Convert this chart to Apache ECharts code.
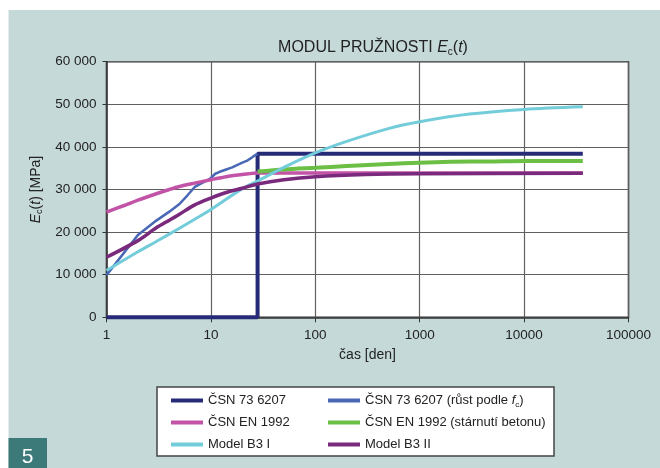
<!DOCTYPE html>
<html>
<head>
<meta charset="utf-8">
<script src="https://cdn.jsdelivr.net/npm/echarts@6/dist/echarts.min.js"></script>
<style>
  html, body { margin: 0; padding: 0; background: #ffffff; }
  #chart { width: 660px; height: 468px; }
</style>
</head>
<body>
<div id="chart"></div>
<script>
// time [days] and modulus [MPa]
var tCsn = [1, 28, 28, 36500];
var eCsn = [0, 0, 38400, 38400];

var tCsnFc = [1, 2, 3, 4, 5, 6, 7, 8, 9, 10, 11, 12, 14, 16, 18, 20, 22, 24, 26, 28];
var eCsnFc = [9900, 19300, 22700, 24800, 26600, 28700, 30600, 31400, 32000, 32700, 33700, 34100, 34700, 35200, 35800, 36300, 36700, 37300, 37900, 38400];

var tEn = [1, 1.5, 2, 3, 4, 5, 7, 10, 14, 20, 28, 100, 1000, 36500];
var eEn = [24700, 26300, 27500, 29000, 30000, 30700, 31500, 32300, 33000, 33500, 33900, 33900, 33900, 33900];

var tEnAge = [28, 50, 100, 200, 500, 1000, 2000, 5000, 10000, 36500];
var eEnAge = [34200, 34700, 35100, 35500, 36000, 36300, 36500, 36600, 36700, 36700];

var tB3I = [1, 2, 3, 5, 7, 10, 20, 28, 50, 100, 200, 500, 1000, 3000, 10000, 36500];
var eB3I = [11000, 15400, 17800, 20900, 23000, 25300, 30200, 32000, 35200, 38600, 41300, 44300, 45900, 47700, 48800, 49400];

var tB3II = [1, 2, 3, 4, 5, 7, 10, 14, 20, 28, 50, 100, 300, 1000, 36500];
var eB3II = [14100, 18000, 21000, 22800, 24200, 26400, 28000, 29300, 30300, 31300, 32300, 33000, 33500, 33700, 33800];

var names = ['ČSN 73 6207', 'ČSN 73 6207 (růst podle fc)', 'ČSN EN 1992',
             'ČSN EN 1992 (stárnutí betonu)', 'Model B3 I', 'Model B3 II'];
var colors = ['#272a76', '#4868b6', '#c253a7', '#6bbf45', '#72ccd9', '#7a2a7c'];
var widths = [4, 2.5, 3.5, 4, 3, 3.5];
var xTicks = [1, 10, 100, 1000, 10000, 100000];

function zip(t, e) {
    return t.map(function (v, i) { return [v, e[i]]; });
}
var seriesData = [zip(tCsn, eCsn), zip(tCsnFc, eCsnFc), zip(tEn, eEn),
                  zip(tEnAge, eEnAge), zip(tB3I, eB3I), zip(tB3II, eB3II)];

var chart = echarts.init(document.getElementById('chart'));

// legend: two columns, three rows
var legendPos = [[166, 389], [323, 389], [166, 411], [323, 411], [166, 433], [323, 433]];
var legends = names.map(function (n, i) {
    return {
        data: [n],
        left: legendPos[i][0],
        top: legendPos[i][1],
        icon: 'rect',
        itemWidth: 32,
        itemHeight: 4,
        itemGap: 0,
        z: 10,
        selectedMode: false,
        formatter: function (name) {
            if (name === names[1]) return 'ČSN 73 6207 (růst podle {i|f}{s|c})';
            return name;
        },
        textStyle: {
            fontFamily: 'Liberation Sans, Arial, sans-serif',
            fontSize: 13,
            color: '#222',
            rich: {
                i: { fontStyle: 'italic', fontSize: 13, fontFamily: 'Liberation Sans', color: '#222' },
                s: { fontSize: 8, fontFamily: 'Liberation Sans', color: '#222', padding: [8, 0, 0, 0] }
            }
        }
    };
});

var option = {
    animation: false,
    backgroundColor: '#ffffff',
    textStyle: { fontFamily: 'Liberation Sans, Arial, sans-serif' },
    title: {
        text: 'MODUL PRUŽNOSTI {i|E}{s|c}({i|t})',
        left: 368,
        top: 33,
        textAlign: 'center',
        textStyle: {
            fontSize: 16,
            fontWeight: 'normal',
            color: '#222',
            rich: {
                i: { fontSize: 16, fontStyle: 'italic', color: '#222' },
                s: { fontSize: 10, color: '#222', padding: [9, 0, 0, 0] }
            }
        }
    },
    legend: legends,
    graphic: [
        { type: 'rect', z: -100, shape: { x: 8.5, y: 10, width: 652, height: 458 }, style: { fill: '#c5d9d8' } },
        { type: 'rect', z: 5, shape: { x: 157, y: 387, width: 397, height: 69 }, style: { fill: '#ffffff', stroke: '#444', lineWidth: 1.5 } },
        { type: 'rect', z: 5, shape: { x: 8.5, y: 438, width: 38.5, height: 30 }, style: { fill: '#3b7a79' } },
        { type: 'text', z: 6, x: 27.5, y: 457, style: { text: '5', fill: '#ffffff', fontSize: 21, fontFamily: 'Liberation Sans', align: 'center', verticalAlign: 'middle' } }
    ],
    grid: {
        left: 106.5, right: 31.5, top: 61.7, bottom: 150.7,
        show: true, backgroundColor: '#ffffff', borderColor: '#333', borderWidth: 1.5
    },
    xAxis: {
        type: 'log',
        logBase: 10,
        min: xTicks[0],
        max: xTicks[xTicks.length - 1],
        name: 'čas [den]',
        nameLocation: 'middle',
        nameGap: 31,
        nameTextStyle: { fontSize: 14, color: '#222' },
        axisLine: { lineStyle: { color: '#333', width: 1.5 } },
        axisTick: { show: true, length: 5, lineStyle: { color: '#333' } },
        minorTick: { show: false },
        axisLabel: { fontSize: 13.5, color: '#222', margin: 11, formatter: function (v) { return String(Math.round(v)); } },
        splitLine: { show: true, lineStyle: { color: '#606060', width: 1.2 } }
    },
    yAxis: {
        type: 'value',
        min: 0,
        max: 60000,
        interval: 10000,
        name: '{i|E}{s|c}({i|t}) [MPa]',
        nameLocation: 'middle',
        nameGap: 62,
        nameTextStyle: {
            fontSize: 14, color: '#222',
            rich: {
                i: { fontSize: 14, fontStyle: 'italic', color: '#222' },
                s: { fontSize: 9, color: '#222', padding: [8, 0, 0, 0] }
            }
        },
        axisLine: { show: true, lineStyle: { color: '#333', width: 1.5 } },
        axisTick: { show: true, length: 4, lineStyle: { color: '#333' } },
        axisLabel: {
            fontSize: 13.5, color: '#222', margin: 10,
            formatter: function (v) { return v === 0 ? '0' : String(v).replace(/(\d)(?=(\d{3})+$)/g, '$1 '); }
        },
        splitLine: { show: true, lineStyle: { color: '#606060', width: 1.2 } }
    },
    series: names.map(function (n, i) {
        return {
            name: n,
            type: 'line',
            data: seriesData[i],
            symbol: 'none',
            smooth: (i === 0 || i === 1) ? false : 0.3,
            clip: false,
            color: colors[i],
            lineStyle: { width: widths[i], color: colors[i] },
            z: 3 + i
        };
    })
};
chart.setOption(option);
</script>
</body>
</html>
